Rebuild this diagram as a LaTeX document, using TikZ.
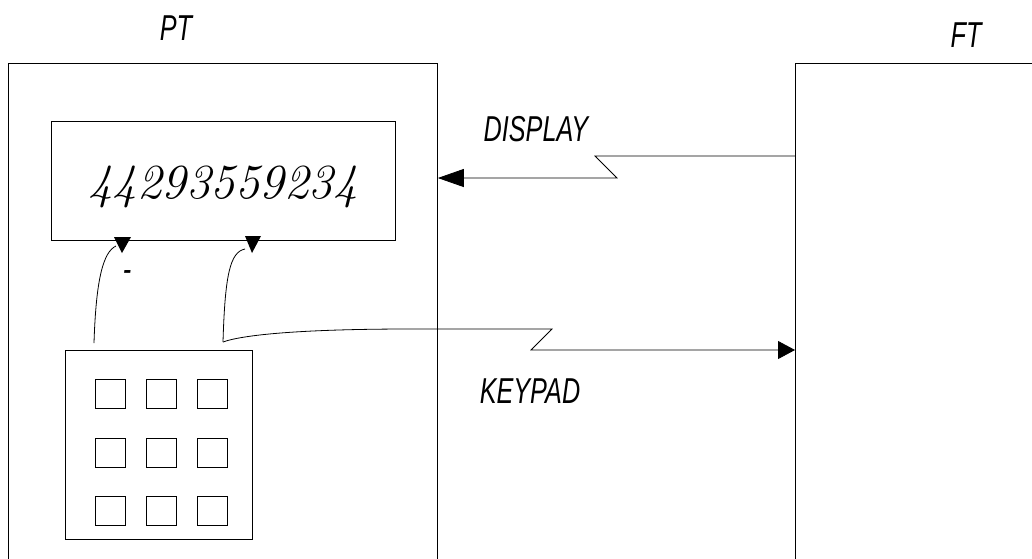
\documentclass[tikz,border=0pt]{standalone}
\usepackage{fontspec}
\usetikzlibrary{arrows.meta}
\newfontfamily\lblfont[FakeStretch=0.7]{Liberation Sans}
\tikzset{
	box/.style={draw, line width=0.8pt, inner sep=0pt},
	lbl/.style={font=\lblfont\itshape\fontsize{36}{40}\selectfont},
	key/.style={draw, line width=0.8pt, minimum width=30pt, minimum height=29pt, inner sep=0pt},
	tip/.style={-{Triangle[length=#1,width=18pt]}}
}
\begin{document}
\begin{tikzpicture}[x=1pt, y=-1pt, line width=0.8pt]
	\useasboundingbox (0,0) rectangle (1032,558);
	\clip (0,0) rectangle (1032,558);
	\node[box, minimum width=429pt, minimum height=600pt, anchor=north west] (pt) at (8,63) {};
	\node[box, minimum width=300pt, minimum height=600pt, anchor=north west] (ft) at (795,63) {};
	\node[lbl] (ptlbl) at (176,28) {PT};
	\node[lbl] (ftlbl) at (966,35) {FT};
	% display and keypad
	\node[box, minimum width=344pt, minimum height=119pt, anchor=north west] (disp) at (51,121) {};
	\node[font=\itshape\fontsize{49}{52}\selectfont, anchor=base] (num) at (223,198) {44293559234};
	\node[box, minimum width=187pt, minimum height=189pt, anchor=north west] (keypad) at (65,350) {};
	\foreach \c in {0,1,2} {\foreach \r in {0,1,2} {\node[key, anchor=north west] (k\c\r) at ({95+51*\c},{379+58.5*\r}) {};}}
	% links
	\coordinate (dz1) at (595,156); \coordinate (dz2) at (617,178);
	\draw[tip=26pt] (dz1 -| ft.west) -- (dz1) -- (dz2) -- (dz2 -| pt.east);
	\node[lbl] (displbl) at (536,129) {DISPLAY};
	\coordinate (kstart) at (223,342); \coordinate (kz1) at (552,329); \coordinate (kz2) at (531,350);
	\draw[tip=17pt] (kstart) .. controls (245,334) and (310,329) .. (410,329) -- (kz1) -- (kz2) -- (kz2 -| ft.west);
	\node[lbl] (keylbl) at (530,391) {KEYPAD};
	\draw (kstart) .. controls (225,275) and (230,252) .. (245,249);
	\fill (245,236) -- (261,236) -- (252,253) -- cycle;
	\draw (94,343) .. controls (96,280) and (103,252) .. (116,246);
	\fill (114,237) -- (131,237) -- (122,253) -- cycle;
	\node[lbl, anchor=base] (dash) at (127,281) {-};
\end{tikzpicture}
\end{document}
